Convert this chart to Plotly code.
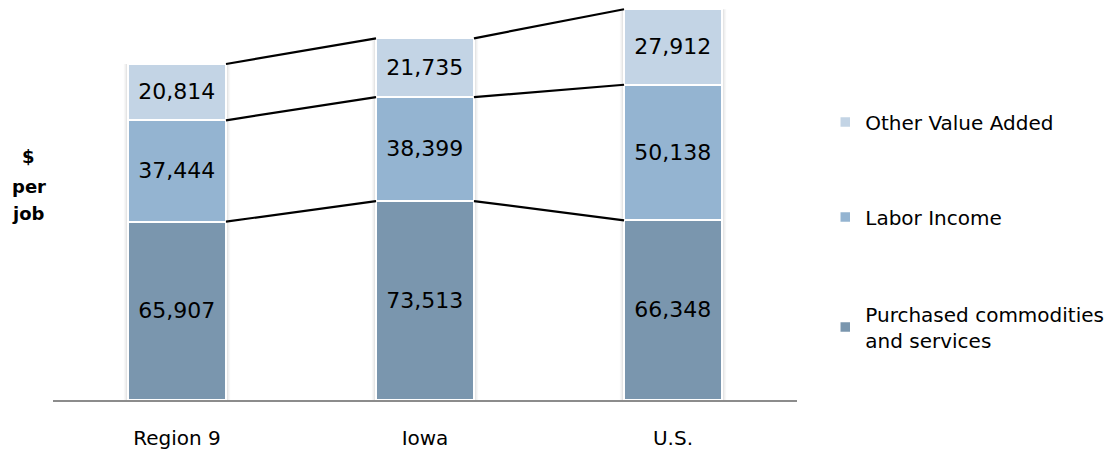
import plotly.graph_objects as go

# Per-job value breakdown by geography
regions = ["Region 9", "Iowa", "U.S."]
purchased = [65907, 73513, 66348]
labor_income = [37444, 38399, 50138]
other_value_added = [20814, 21735, 27912]

series_names = ["Purchased commodities<br>and services", "Labor Income", "Other Value Added"]
series_values = [purchased, labor_income, other_value_added]
series_colors = ["#7A96AE", "#94B4D1", "#C3D4E5"]
legend_ids = ["legend3", "legend2", "legend"]

FONT = "DejaVu Sans"
BAR_W = 0.395
xpos = list(range(len(regions)))
totals = [sum(v) for v in zip(*series_values)]

fig = go.Figure()

# Stacked bars, each series in its own legend box so the entries can be spaced freely
for name, vals, color, lg in zip(series_names, series_values, series_colors, legend_ids):
    fig.add_trace(go.Bar(
        x=xpos, y=vals, name=name, width=BAR_W,
        marker=dict(color=color, line=dict(color="white", width=2.5)),
        text=[f"{v:,}" for v in vals], textposition="inside",
        insidetextanchor="middle", constraintext="none",
        textfont=dict(family=FONT, size=22, color="black"),
        legend=lg, hoverinfo="skip",
    ))

# Series lines joining the top of each segment between neighbouring bars
cum = [0] * len(regions)
for vals in series_values:
    cum = [c + v for c, v in zip(cum, vals)]
    lx, ly = [], []
    for i in range(len(regions) - 1):
        lx += [xpos[i] + BAR_W / 2, xpos[i + 1] - BAR_W / 2, None]
        ly += [cum[i], cum[i + 1], None]
    fig.add_trace(go.Scatter(x=lx, y=ly, mode="lines",
                             line=dict(color="black", width=2.2),
                             showlegend=False, hoverinfo="skip"))

# Soft shadow around each column, drawn beneath the bars
shadow_shapes = []
for xi, tot in zip(xpos, totals):
    for extra, alpha in [(0.034, 0.03), (0.022, 0.045), (0.012, 0.06)]:
        shadow_shapes.append(dict(
            type="rect", xref="x", yref="y", layer="below",
            x0=xi - BAR_W / 2 - extra / 2, x1=xi + BAR_W / 2 + extra / 2,
            y0=0, y1=tot, line=dict(width=0),
            fillcolor=f"rgba(0,0,0,{alpha})",
        ))

legend_common = dict(font=dict(family=FONT, size=20, color="black"),
                     bgcolor="rgba(0,0,0,0)", xanchor="left", yanchor="middle",
                     itemwidth=30, traceorder="normal")

# Vertical axis caption, one word per line
caption = [("$", 0.6075), ("per", 0.535), ("job", 0.4675)]
annotations = [dict(text=f"<b>{w}</b>", xref="paper", yref="paper",
                    x=-0.0325, y=yy, xanchor="center", yanchor="middle",
                    showarrow=False, font=dict(family=FONT, size=18, color="black"))
               for w, yy in caption]

fig.update_layout(
    width=1110, height=451,
    margin=dict(l=53, r=313, t=0, b=51),
    barmode="stack", bargap=0,
    plot_bgcolor="white", paper_bgcolor="white",
    font=dict(family=FONT, size=18, color="black"),
    xaxis=dict(range=[-0.5, 2.5], tickvals=xpos, ticktext=regions,
               showgrid=False, zeroline=False, showline=True,
               linecolor="#8C8C8C", linewidth=2, ticks="",
               ticklabelstandoff=19,
               tickfont=dict(family=FONT, size=20, color="black")),
    yaxis=dict(range=[0, 147800], visible=False),
    legend=dict(x=1.038, y=0.695, **legend_common),
    legend2=dict(x=1.038, y=0.4575, **legend_common),
    legend3=dict(x=1.038, y=0.1825, **legend_common),
    shapes=shadow_shapes,
    annotations=annotations,
)

fig.write_html("out.html")
